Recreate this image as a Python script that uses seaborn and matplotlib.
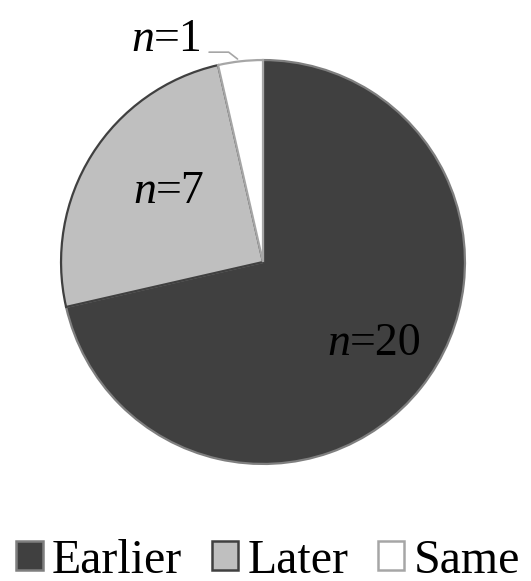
import matplotlib
matplotlib.use("Agg")
import matplotlib.pyplot as plt
import seaborn as sns
from matplotlib.patches import Patch
from matplotlib.font_manager import FontProperties

categories = ["Earlier", "Later", "Same"]
counts = [20, 7, 1]
label_values = ["20", "7", "1"]
fill_colors = ["#404040", "#bfbfbf", "#ffffff"]
edge_colors = ["#7f7f7f", "#404040", "#a6a6a6"]

sns.set_theme(style="white")
FAM = "Liberation Serif"
plt.rcParams["font.family"] = [FAM, "DejaVu Serif"]
plt.rcParams["text.color"] = "black"

W, H = 531, 581
fig = plt.figure(figsize=(W / 100, H / 100), dpi=100)
cx, cy, r = 263, 262, 206
ax = fig.add_axes([(cx - r) / W, 1 - (cy + r) / H, 2 * r / W, 2 * r / H])

wedges, _ = ax.pie(counts, colors=fill_colors, startangle=90, counterclock=False,
                   radius=1.0, wedgeprops=dict(linewidth=1.6))
for w, ec in zip(wedges, edge_colors):
    w.set_edgecolor(ec)
ax.set_xlim(-1.02, 1.02)
ax.set_ylim(-1.02, 1.02)
ax.set_aspect("auto")
ax.set_axis_off()

fs = 33
fp_it = FontProperties(family=FAM, style="italic", size=fs)
fp_rm = FontProperties(family=FAM, size=fs)
label_pos = [(0.432, -0.461), (-0.529, 0.291), (-0.539, 1.044)]
for (x, y), v in zip(label_pos, label_values):
    ax.text(x, y, "n", fontproperties=fp_it, color="black", ha="right",
            va="baseline", clip_on=False)
    ax.text(x, y, "=" + v, fontproperties=fp_rm, color="black", ha="left",
            va="baseline", clip_on=False)
ax.plot([-0.267, -0.170, -0.126], [1.039, 1.039, 1.005], color="#a6a6a6", lw=1.2,
        clip_on=False)

fp_leg = FontProperties(family=FAM, size=34.5)
handles = [Patch(facecolor=fc, edgecolor=ec, linewidth=1.8)
           for fc, ec in zip(fill_colors, edge_colors)]
fig.legend(handles, categories, loc="lower center", bbox_to_anchor=(0.505, -0.003),
           ncol=3, frameon=False, prop=fp_leg, labelcolor="black",
           handlelength=0.55, handleheight=0.55,
           handletextpad=0.19, columnspacing=0.62, borderaxespad=0, borderpad=0)

fig.savefig("out.png", dpi=100, facecolor="white")
